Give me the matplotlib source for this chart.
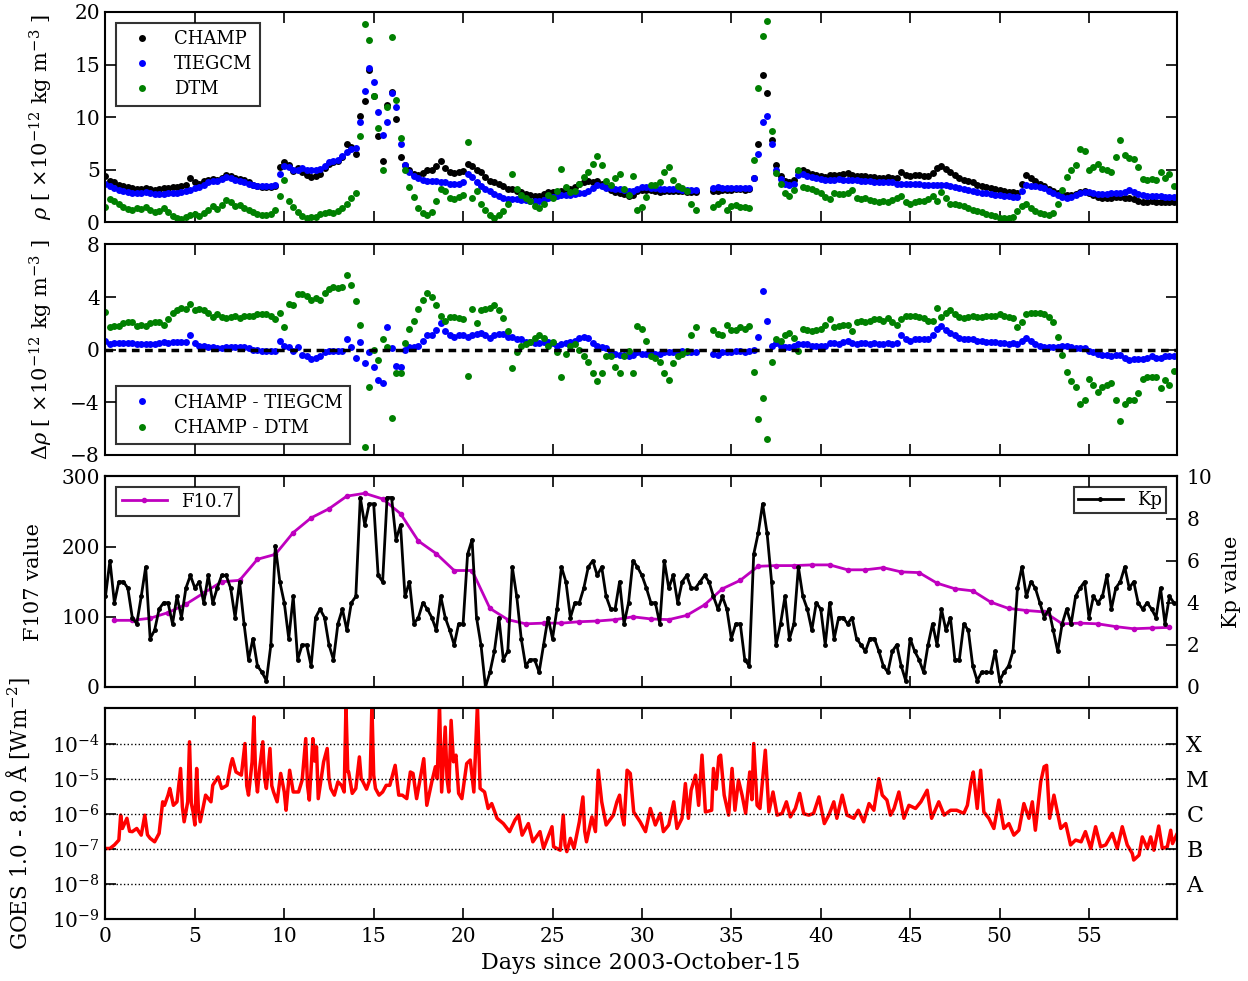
import numpy as np
import matplotlib
matplotlib.use('Agg')
from matplotlib import pyplot as plt
from matplotlib.ticker import MultipleLocator, LogLocator, NullFormatter, FixedLocator, FixedFormatter

nan = np.nan
STEP = 0.25  # orbit-averaged samples, one every 6 h

# density in 1e-12 kg/m^3, one row per day
champ = [
    4.4, 3.9, 3.8, 3.6,   3.5, 3.4, 3.3, 3.2,   3.2, 3.3, 3.2, 3.1,   3.2, 3.3, 3.3, 3.4,
    3.4, 3.5, 3.6, 4.2,   3.8, 3.7, 3.9, 4.0,   4.1, 4.0, 4.2, 4.5,   4.4, 4.2, 4.1, 4.0,
    3.8, 3.6, 3.5, 3.4,   3.4, 3.4, 3.5, 5.3,   5.7, 5.5, 4.9, 5.2,   4.8, 4.5, 4.3, 4.4,
    4.6, 5.2, 5.6, 5.7,   5.8, 6.2, 7.5, 7.2,   6.5, 10.1, 11.5, 14.5, 12.0, 8.2, 5.8, 11.2,
    12.4, 9.8, 6.2, 5.5,  5.0, 4.6, 4.5, 4.7,   5.0, 5.0, 5.4, 5.8,   5.2, 4.8, 4.7, 4.8,
    4.9, 5.6, 5.4, 5.0,   4.8, 4.3, 3.9, 3.8,   3.7, 3.5, 3.2, 3.2,   3.0, 2.9, 2.7, 2.6,
    2.5, 2.5, 2.7, 2.9,   2.9, 2.8, 3.0, 3.1,   3.2, 3.4, 3.7, 3.8,   3.9, 3.8, 3.9, 3.7,
    3.4, 3.1, 2.9, 2.8,   2.7, 2.5, 2.6, 3.0,   3.1, 3.1, 3.1, 3.0,   2.9, 3.0, 3.0, 3.0,
    3.0, 3.0, 2.9, 2.9,   2.9, nan, nan, nan,   3.0, 3.0, 3.1, 3.1,   3.1, 3.2, 3.2, 3.1,
    3.2, 4.2, 7.5, 14.0,  12.3, 7.8, 5.5, 4.4,  3.9, 3.8, 4.0, 4.9,   5.0, 4.8, 4.6, 4.5,
    4.4, 4.3, 4.5, 4.5,   4.5, 4.6, 4.7, 4.5,   4.4, 4.4, 4.4, 4.3,   4.3, 4.2, 4.2, 4.3,
    4.2, 4.2, 4.8, 4.5,   4.4, 4.5, 4.5, 4.4,   4.4, 4.7, 5.2, 5.4,   5.1, 4.8, 4.5, 4.2,
    4.0, 3.9, 3.8, 3.6,   3.5, 3.4, 3.3, 3.2,   3.1, 3.0, 2.9, 2.9,   2.8, 3.7, 4.5, 4.2,
    3.9, 3.7, 3.5, 3.2,   3.0, 2.8, 2.7, 2.6,   2.6, 2.7, 2.9, 3.0,   2.8, 2.6, 2.4, 2.3,
    2.3, 2.3, 2.4, 2.4,   2.3, 2.3, 2.2, 2.0,   1.9, 1.9, 2.0, 1.9,   1.9, 1.9, 1.9, 1.9,
]

tiegcm = [
    3.7, 3.5, 3.3, 3.1,   3.0, 2.9, 2.8, 2.8,   2.8, 2.9, 2.8, 2.7,   2.7, 2.7, 2.8, 2.8,
    2.8, 2.9, 3.0, 3.1,   3.3, 3.4, 3.6, 3.8,   3.9, 3.9, 4.1, 4.3,   4.2, 4.0, 3.9, 3.8,
    3.7, 3.6, 3.5, 3.5,   3.5, 3.5, 3.6, 4.6,   5.4, 5.3, 5.0, 5.0,   5.2, 5.0, 5.0, 5.0,
    5.1, 5.4, 5.7, 5.8,   5.9, 6.3, 6.7, 7.0,   7.1, 9.5, 12.5, 14.7, 13.3, 10.5, 8.3, 9.5,
    12.3, 11.0, 7.5, 5.5, 4.8, 4.4, 4.2, 4.0,   3.9, 3.9, 3.9, 3.8,   3.8, 3.7, 3.7, 3.7,
    3.8, 4.6, 4.3, 3.8,   3.5, 3.2, 3.0, 2.7,   2.5, 2.3, 2.2, 2.2,   2.2, 2.1, 2.1, 2.0,
    2.0, 2.0, 2.1, 2.3,   2.4, 2.5, 2.6, 2.6,   2.6, 2.7, 2.8, 2.8,   3.0, 3.3, 3.6, 3.5,
    3.3, 3.3, 3.2, 3.2,   3.1, 3.0, 3.0, 3.2,   3.4, 3.4, 3.3, 3.3,   3.2, 3.2, 3.2, 3.2,
    3.2, 3.1, 3.1, 3.1,   3.1, nan, nan, nan,   3.3, 3.4, 3.3, 3.3,   3.3, 3.3, 3.3, 3.3,
    3.3, 4.2, 6.5, 9.5,   10.1, 7.5, 5.0, 4.1,  3.7, 3.6, 3.7, 4.5,   4.6, 4.4, 4.3, 4.2,
    4.1, 4.0, 4.0, 4.0,   4.1, 4.0, 4.0, 4.0,   4.0, 3.9, 3.9, 3.9,   3.8, 3.8, 3.8, 3.8,
    3.8, 3.7, 3.7, 3.7,   3.7, 3.7, 3.7, 3.6,   3.6, 3.6, 3.6, 3.6,   3.6, 3.5, 3.4, 3.3,
    3.2, 3.1, 3.0, 2.9,   2.8, 2.8, 2.7, 2.6,   2.6, 2.5, 2.5, 2.4,   2.4, 3.0, 3.6, 3.5,
    3.5, 3.4, 3.3, 3.0,   2.8, 2.6, 2.4, 2.3,   2.4, 2.6, 2.8, 2.9,   2.9, 2.8, 2.7, 2.7,
    2.7, 2.8, 2.8, 2.8,   2.9, 3.1, 2.9, 2.7,   2.6, 2.5, 2.5, 2.5,   2.5, 2.4, 2.4, 2.4,
]

dtm = [
    1.5, 2.2, 2.0, 1.8,   1.5, 1.3, 1.2, 1.4,   1.3, 1.5, 1.2, 1.0,   1.1, 1.4, 1.0, 0.6,
    0.4, 0.3, 0.5, 0.7,   0.8, 0.6, 0.9, 1.2,   1.6, 1.3, 1.7, 2.1,   1.9, 1.6, 1.7, 1.4,
    1.2, 1.0, 0.8, 0.7,   0.7, 0.8, 1.2, 2.5,   4.0, 2.0, 1.5, 1.0,   0.6, 0.4, 0.5, 0.5,
    0.8, 0.9, 1.0, 0.9,   1.1, 1.4, 1.8, 2.3,   2.8, 8.2, 18.9, 17.3, 12.0, 9.0, 5.0, 11.0,
    17.6, 11.6, 8.0, 5.0, 3.4, 2.4, 1.4, 0.9,   0.7, 1.0, 2.0, 3.2,   3.0, 2.3, 2.2, 2.4,
    2.6, 7.6, 2.3, 3.0,   1.8, 1.2, 0.7, 0.4,   0.7, 1.1, 1.8, 4.6,   3.2, 2.6, 2.3, 2.0,
    1.6, 1.4, 1.8, 2.6,   2.3, 3.0, 5.1, 3.4,   2.9, 3.0, 3.7, 4.3,   4.8, 5.6, 6.3, 5.5,
    3.9, 3.6, 4.2, 4.6,   3.2, 2.6, 4.4, 1.2,   1.5, 2.4, 3.6, 3.6,   3.8, 4.8, 5.3, 4.0,
    3.5, 3.3, 3.0, 1.8,   1.2, nan, nan, nan,   1.5, 1.8, 2.0, 1.2,   1.6, 1.7, 1.5, 1.5,
    1.4, 5.9, 12.8, 17.7, 19.1, 8.7, 4.7, 3.7,  2.8, 2.5, 3.1, 5.0,   3.4, 3.3, 3.2, 3.0,
    2.8, 2.4, 2.2, 2.8,   2.7, 2.7, 2.8, 3.1,   2.3, 2.2, 2.3, 2.1,   2.0, 1.9, 2.0, 1.9,
    2.1, 2.3, 2.5, 1.9,   1.8, 1.9, 2.0, 2.0,   2.2, 2.5, 2.0, 2.9,   2.3, 1.8, 1.8, 1.7,
    1.6, 1.4, 1.2, 1.1,   1.0, 0.8, 0.7, 0.6,   0.4, 0.4, 0.4, 0.5,   1.1, 1.6, 1.8, 1.4,
    1.1, 0.9, 0.8, 0.7,   0.9, 1.8, 3.1, 4.3,   5.0, 5.5, 7.0, 6.8,   5.0, 5.3, 5.6, 5.1,
    5.0, 4.8, 6.2, 7.8,   6.4, 6.1, 6.0, 5.3,   4.1, 4.0, 4.1, 4.0,   4.8, 4.2, 4.6, 3.5,
]

# Kp index, 6-hourly
kp = [
    4.3, 6.0, 4.0, 5.0,   5.0, 4.7, 3.3, 3.0,   4.3, 5.7, 2.3, 2.7,   3.7, 4.0, 4.0, 3.0,
    4.3, 3.3, 4.7, 5.3,   4.7, 5.0, 4.0, 5.3,   4.0, 4.7, 5.3, 5.3,   4.7, 3.3, 5.0, 3.0,
    1.3, 2.3, 1.0, 0.7,   0.3, 2.0, 6.7, 5.0,   4.0, 2.3, 4.3, 1.3,   2.0, 2.0, 1.0, 3.3,
    3.7, 3.3, 2.0, 1.3,   3.0, 3.7, 2.7, 4.0,   4.3, 9.0, 7.7, 8.7,   8.7, 5.3, 5.0, 9.0,
    9.0, 7.0, 7.7, 4.3,   5.0, 3.0, 3.3, 4.0,   3.7, 3.3, 2.7, 4.3,   3.3, 2.7, 2.0, 3.0,
    3.0, 6.3, 7.0, 3.3,   2.0, 0.0, 0.7, 1.7,   3.3, 1.3, 1.7, 5.7,   4.3, 2.3, 1.0, 1.3,
    1.3, 0.7, 2.0, 3.3,   2.3, 3.7, 5.7, 5.0,   3.3, 4.0, 4.0, 4.7,   5.7, 6.0, 5.3, 5.7,
    4.3, 3.7, 3.7, 5.0,   3.0, 4.0, 6.0, 5.7,   5.3, 4.7, 4.0, 4.0,   3.0, 6.0, 4.7, 5.3,
    4.0, 5.0, 5.3, 4.7,   4.7, 5.0, 5.3, 5.0,   4.3, 3.7, 4.3, 3.7,   2.3, 3.0, 3.0, 1.3,
    1.0, 6.3, 7.3, 8.7,   7.3, 5.0, 2.0, 3.0,   4.3, 2.3, 3.0, 5.7,   4.3, 3.7, 2.7, 4.0,
    3.7, 2.0, 4.0, 2.3,   3.3, 3.3, 3.0, 3.3,   2.3, 2.0, 1.7, 2.3,   2.3, 1.7, 1.0, 0.7,
    1.7, 2.0, 1.0, 0.3,   2.3, 1.7, 1.3, 0.7,   2.0, 3.0, 2.0, 3.7,   2.7, 3.3, 1.3, 1.3,
    3.0, 2.7, 1.0, 0.3,   0.7, 0.7, 0.7, 1.7,   0.3, 0.7, 1.0, 1.7,   4.7, 5.7, 4.3, 5.0,
    4.7, 4.0, 3.3, 3.7,   2.7, 1.7, 3.0, 3.7,   3.0, 4.3, 4.7, 5.0,   3.3, 4.3, 4.0, 4.3,
    5.3, 3.7, 4.7, 5.0,   5.7, 4.7, 5.0, 4.0,   3.7, 4.0, 3.7, 3.3,   4.7, 3.0, 4.3, 4.0,
]

# daily F10.7, sampled at mid-day
f107 = [
    95, 95, 98, 106, 118, 134, 150, 152, 182, 189,
    220, 241, 254, 272, 276, 268, 247, 208, 190, 166,
    166, 112, 96, 90, 91, 91, 93, 94, 96, 100,
    97, 96, 102, 117, 140, 152, 172, 173, 173, 174,
    174, 167, 167, 170, 164, 163, 148, 140, 137, 121,
    112, 109, 107, 90, 91, 90, 86, 83, 84, 85,
]

# GOES 1-8 A flux: (day, log10 W/m^2)
goes_day = [
    0.0, 0.25, 0.5, 0.75, 0.85, 0.95, 1.2, 1.35, 1.5, 1.75, 2.0, 2.2, 2.35, 2.5, 2.75,
    3.0, 3.2, 3.3, 3.5, 3.6, 3.8, 4.0, 4.2, 4.3, 4.4, 4.6, 4.7, 4.8, 4.9, 5.0, 5.1,
    5.2, 5.3, 5.6, 5.9, 6.0, 6.3, 6.5, 6.8, 7.0, 7.1, 7.3, 7.6, 7.8, 7.9, 8.0, 8.2,
    8.3, 8.4, 8.5, 8.6, 8.8, 8.9, 9.0, 9.2, 9.3, 9.4, 9.6, 9.8, 10.0, 10.1, 10.3,
    10.5, 10.8, 11.0, 11.2, 11.3, 11.4, 11.6, 11.7, 11.8, 11.9, 12.2, 12.4, 12.5,
    12.6, 12.8, 13.0, 13.2, 13.35, 13.45, 13.55, 13.6, 13.8, 14.0, 14.2, 14.3, 14.4,
    14.6, 14.8, 14.9, 15.0, 15.1, 15.3, 15.5, 15.7, 15.9, 16.2, 16.4, 16.6, 16.85,
    17.05, 17.2, 17.4, 17.6, 17.8, 17.97, 18.25, 18.45, 18.55, 18.68, 18.8, 19.0,
    19.1, 19.2, 19.33, 19.46, 19.6, 19.75, 19.93, 20.2, 20.4, 20.6, 20.8, 20.95,
    21.2, 21.4, 21.6, 21.9, 22.25, 22.6, 22.9, 23.1, 23.3, 23.65, 23.9, 24.3, 24.5,
    24.97, 25.06, 25.43, 25.6, 25.7, 25.8, 26.0, 26.2, 26.5, 26.7, 26.8, 26.9, 27.2,
    27.4, 27.56, 27.75, 28.0, 28.4, 28.6, 28.75, 28.9, 29.0, 29.17, 29.35, 29.54,
    29.9, 30.2, 30.47, 30.75, 31.03, 31.2, 31.5, 31.78, 31.96, 32.24, 32.43, 32.6,
    32.75, 33.0, 33.17, 33.36, 33.55, 33.9, 34.0, 34.15, 34.3, 34.4, 34.6, 34.85,
    35.04, 35.2, 35.4, 35.6, 35.8, 36.03, 36.15, 36.25, 36.44, 36.6, 36.9, 37.1,
    37.33, 37.56, 37.84, 38.08, 38.3, 38.58, 38.82, 39.05, 39.33, 39.6, 39.9, 40.2,
    40.45, 40.73, 40.9, 41.2, 41.47, 41.85, 42.1, 42.4, 42.7, 42.97, 43.25, 43.44,
    43.7, 43.9, 44.1, 44.37, 44.65, 44.93, 45.3, 45.6, 45.95, 46.2, 46.6, 46.9,
    47.26, 47.6, 48.0, 48.2, 48.4, 48.53, 48.75, 48.94, 49.12, 49.4, 49.68, 49.96,
    50.24, 50.52, 50.8, 51.08, 51.36, 51.64, 51.83, 52.0, 52.3, 52.49, 52.63, 52.8,
    53.04, 53.23, 53.42, 53.7, 53.97, 54.25, 54.56, 54.8, 55.1, 55.37, 55.65, 55.93,
    56.3, 56.58, 56.86, 57.14, 57.42, 57.5, 57.8, 57.98, 58.26, 58.45, 58.63, 58.9,
    59.1, 59.38, 59.57, 59.67, 59.9,
]
goes_exp = [
    -6.99, -6.99, -6.89, -6.75, -6.04, -6.42, -6.13, -6.5, -6.51, -6.42, -6.61, -6.04, -6.6, -6.70, -6.80,
    -6.56, -5.66, -5.76, -5.47, -5.28, -5.76, -5.66, -4.71, -5.8, -6.23, -5.66, -3.95, -5.7, -5.95, -6.32, -4.71,
    -5.9, -6.23, -5.47, -5.66, -5.19, -4.95, -5.28, -5.19, -4.62, -4.43, -4.81, -4.90, -4.0, -5.2, -5.47, -4.52,
    -3.24, -4.9, -5.38, -4.81, -3.95, -5.0, -5.28, -4.14, -5.2, -5.38, -5.66, -4.85, -5.38, -5.90, -4.76,
    -5.38, -5.38, -5.04, -3.86, -5.2, -5.61, -3.86, -4.5, -4.09, -5.57, -4.52, -4.14, -5.0,
    -5.28, -5.47, -5.09, -5.19, -5.38, -2.9, -4.8, -4.81, -5.42, -5.28, -4.38, -5.0, -5.09,
    -5.3, -5.0, -2.9, -4.9, -5.28, -5.47, -5.38, -5.19, -5.19, -4.62, -5.47, -5.47, -5.57,
    -4.81, -4.85, -5.57, -5.0, -4.43, -5.76, -5.09, -4.66, -5.0, -2.9, -5.38, -3.53,
    -5.0, -5.38, -3.34, -4.52, -4.33, -5.42, -5.57, -4.57, -4.47, -5.38, -2.9, -5.28,
    -5.38, -5.85, -5.71, -6.13, -6.28, -6.51, -6.18, -6.04, -6.61, -6.28, -6.80, -6.51, -6.99,
    -6.37, -6.94, -7.04, -6.04, -6.9, -7.08, -6.70, -6.99, -6.23, -5.52, -6.5, -6.80, -6.09,
    -6.51, -4.76, -5.66, -6.32, -6.04, -5.66, -5.47, -6.1, -6.32, -4.76, -4.85, -5.95,
    -6.23, -6.51, -5.85, -6.32, -5.99, -6.51, -6.32, -5.66, -6.42, -6.13, -5.14, -6.13,
    -5.33, -4.90, -5.76, -4.33, -5.95, -5.90, -4.71, -5.3, -4.38, -4.33, -5.47, -6.04,
    -4.71, -5.90, -5.04, -5.47, -5.99, -4.81, -5.6, -4.0, -5.76, -5.85, -4.19, -5.95,
    -5.38, -6.04, -5.99, -5.66, -6.09, -5.85, -5.42, -6.0, -6.04, -5.99, -5.52, -6.28,
    -6.04, -5.66, -6.13, -5.47, -6.04, -6.13, -5.90, -6.23, -5.71, -5.90, -5.0, -5.47,
    -5.61, -6.04, -5.85, -5.38, -6.13, -5.76, -5.85, -5.66, -5.33, -6.13, -5.66, -6.04,
    -5.90, -5.90, -5.99, -5.76, -5.09, -4.81, -5.85, -4.76, -5.95, -6.13, -6.42, -5.61,
    -6.42, -6.28, -6.61, -6.47, -5.71, -6.13, -5.66, -6.47, -5.09, -4.66, -4.62, -6.13,
    -5.47, -5.95, -6.42, -6.28, -6.89, -6.75, -6.80, -6.51, -6.99, -6.37, -6.94, -6.89,
    -6.56, -6.99, -6.37, -6.89, -7.13, -7.32, -7.18, -6.66, -6.99, -6.66, -7.04, -6.35,
    -6.99, -6.94, -6.47, -6.85, -6.6,
]

flare_classes = ['X', 'M', 'C', 'B', 'A']
flare_levels = [1e-4, 1e-5, 1e-6, 1e-7, 1e-8]

plt.rcParams['font.family'] = ['DejaVu Serif']
plt.rcParams['mathtext.fontset'] = 'dejavuserif'
plt.rcParams['font.size'] = 14
plt.rcParams['axes.linewidth'] = 1.5
for a in ('xtick', 'ytick'):
    plt.rcParams[a + '.direction'] = 'in'
    plt.rcParams[a + '.major.size'] = 8
    plt.rcParams[a + '.minor.size'] = 4
    plt.rcParams[a + '.major.width'] = 1.2
    plt.rcParams[a + '.labelsize'] = 14.5
plt.rcParams['xtick.major.pad'] = 6
plt.rcParams['ytick.major.pad'] = 4

days = np.arange(len(champ)) * STEP
champ = np.array(champ)
tiegcm = np.array(tiegcm)
dtm = np.array(dtm)
kp_days = np.arange(len(kp)) * STEP
f107_days = np.arange(len(f107)) + 0.5
goes_day = np.array(goes_day)
goes_flux = 10.0 ** np.array(goes_exp)

XMAX = 59.9
fig = plt.figure(figsize=(12.48, 9.81), dpi=100)
L, W, H = 0.0845, 0.8583, 0.2146
ax1 = fig.add_axes([L, 0.7732, W, H])
ax2 = fig.add_axes([L, 0.5362, W, H])
ax3 = fig.add_axes([L, 0.2997, W, H])
ax4 = fig.add_axes([L, 0.0632, W, H])


def style_legend(leg):
    leg.get_frame().set_edgecolor('k')
    leg.get_frame().set_linewidth(1.5)


for ax in (ax1, ax2, ax3, ax4):
    ax.set_xlim(0, XMAX)
    ax.xaxis.set_major_locator(MultipleLocator(5))
    ax.tick_params(top=True, right=True)
for ax in (ax1, ax2, ax3):
    ax.tick_params(labelbottom=False)

rho_unit = u' [ \u00d710$^{-12}$ kg m$^{-3}$ ]'

# panel 1: densities
ms = 5
ax1.plot(days, champ, 'o', color='k', ms=ms, mec='none', label='CHAMP')
ax1.plot(days, tiegcm, 'o', color='b', ms=ms, mec='none', label='TIEGCM')
ax1.plot(days, dtm, 'o', color='g', ms=ms, mec='none', label='DTM')
ax1.set_ylim(0, 20)
ax1.yaxis.set_major_locator(MultipleLocator(5))
ax1.set_ylabel(r'$\rho$' + rho_unit, fontsize=15)
ax1.yaxis.set_label_coords(-0.047, 0.5)
leg = ax1.legend(loc='upper left', numpoints=1, fancybox=False, fontsize=13,
                 borderaxespad=0.6, labelspacing=0.4, handlelength=2.0)
style_legend(leg)

# panel 2: differences
ax2.plot(days, champ - tiegcm, 'o', color='b', ms=ms, mec='none', label='CHAMP - TIEGCM')
ax2.plot(days, champ - dtm, 'o', color='g', ms=ms, mec='none', label='CHAMP - DTM')
ax2.axhline(0, color='k', ls='--', lw=2.5, dashes=(2.2, 1.6))
ax2.set_ylim(-8, 8)
ax2.yaxis.set_major_locator(MultipleLocator(4))
ax2.set_ylabel(r'$\Delta\rho$' + rho_unit, fontsize=15)
ax2.yaxis.set_label_coords(-0.047, 0.5)
leg = ax2.legend(loc='lower left', numpoints=1, fancybox=False, fontsize=13,
                 borderaxespad=0.6, labelspacing=0.4, handlelength=2.0)
style_legend(leg)

# panel 3: F10.7 and Kp
ax3.plot(f107_days, f107, '-o', color='m', lw=2, ms=3, mec='m', label='F10.7')
ax3.set_ylim(0, 300)
ax3.yaxis.set_major_locator(MultipleLocator(100))
ax3.set_ylabel('F107 value', fontsize=15)
ax3.yaxis.set_label_coords(-0.058, 0.5)
ax3.tick_params(right=False)
leg = ax3.legend(loc='upper left', numpoints=1, fancybox=False, fontsize=13,
                 borderaxespad=0.6, handlelength=2.5, borderpad=0.3)
style_legend(leg)
ax3r = ax3.twinx()
ax3r.plot(kp_days, kp, '-o', color='k', lw=2, ms=2.5, label='Kp')
ax3r.set_xlim(0, XMAX)
ax3r.set_ylim(0, 10)
ax3r.yaxis.set_major_locator(MultipleLocator(2))
ax3r.tick_params(axis='y', pad=7)
ax3r.set_ylabel('Kp value', fontsize=15)
ax3r.yaxis.set_label_coords(1.0425, 0.5)
leg = ax3r.legend(loc='upper right', numpoints=1, fancybox=False, fontsize=13,
                  borderaxespad=0.6, handlelength=2.5, borderpad=0.2)
style_legend(leg)

# panel 4: GOES X-ray flux
ax4.plot(goes_day, goes_flux, '-', color='r', lw=2.5)
ax4.set_yscale('log')
ax4.set_ylim(1e-9, 1e-3)
ax4.yaxis.set_major_locator(FixedLocator([1e-9, 1e-8, 1e-7, 1e-6, 1e-5, 1e-4]))
ax4.yaxis.set_major_formatter(FixedFormatter(
    [r'$10^{-%d}$' % k for k in (9, 8, 7, 6, 5, 4)]))
ax4.yaxis.set_minor_locator(LogLocator(base=10, subs=np.arange(2, 10)))
ax4.yaxis.set_minor_formatter(NullFormatter())
ax4.tick_params(right=False)
for lev in flare_levels:
    ax4.axhline(lev, color='k', ls=':', lw=1)
ax4.set_ylabel(u'GOES 1.0 - 8.0 \u00c5 [Wm$^{-2}$]', fontsize=15.5)
ax4.yaxis.set_label_coords(-0.0686, 0.5)
ax4.set_xlabel('Days since 2003-October-15', fontsize=16)
ax4r = ax4.twinx()
ax4r.set_yscale('log')
ax4r.set_ylim(1e-9, 1e-3)
ax4r.yaxis.set_major_locator(FixedLocator(flare_levels))
ax4r.yaxis.set_major_formatter(FixedFormatter(flare_classes))
ax4r.yaxis.set_minor_locator(LogLocator(base=10, subs=np.arange(2, 10)))
ax4r.yaxis.set_minor_formatter(NullFormatter())
ax4r.tick_params(axis='y', labelsize=16, pad=7)

fig.savefig('out.png', dpi=100)
